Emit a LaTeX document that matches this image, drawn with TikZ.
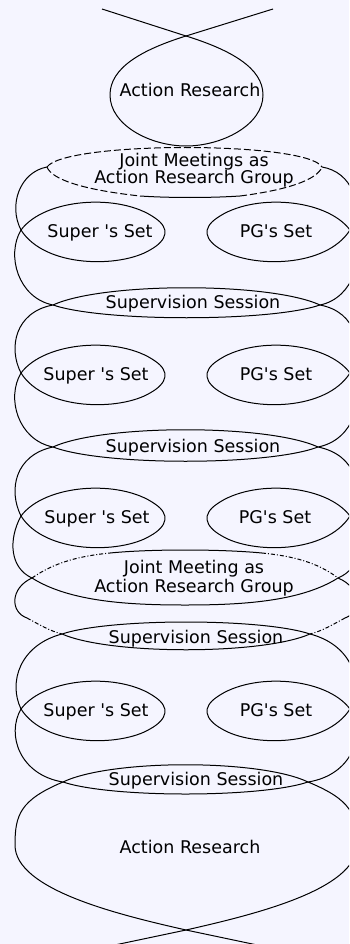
\documentclass[tikz,border=0pt]{standalone}
\usepackage{fontspec}
\setmainfont{DejaVu Sans}[Ligatures=TeXOff]
\usepackage{tikz}

\definecolor{paper}{RGB}{245,245,255}

\tikzset{
  coilline/.style={line width=1pt},
  hiddenline/.style={line width=1pt, dash pattern=on 4pt off 2pt on 1pt off 2pt},
  jmline/.style={line width=1pt, dash pattern=on 7pt off 3pt},
  lbl/.style={font=\fontsize{17.5}{17}\selectfont, inner sep=0pt, anchor=base},
}

\begin{document}
\begin{tikzpicture}[x=1pt,y=-1pt,line join=round]

\fill[paper] (0,0) rectangle (349,944);
\useasboundingbox (0,0) rectangle (349,944);
\clip (0,0) rectangle (349,944);

\draw[coilline] (102,9) -- (186,36) -- (273,9); % top cross
\draw[coilline] (186,36) .. controls (141,50) and (110,68) .. (110,95) .. controls (110,125) and (150,146) .. (186,146) .. controls (222,146) and (263,125) .. (263,95) .. controls (263,68) and (231,50) .. (186,36); % top loop

\draw[jmline] (47,167) .. controls (65,141) and (307,141) .. (322,167); % joint meetings top
\draw[jmline] (47,167) .. controls (52,180) and (85,190) .. (140,196);
\draw[coilline] (140,196) .. controls (170,198) and (210,198) .. (240,196);
\draw[jmline] (240,196) .. controls (287,190) and (317,180) .. (322,167);

% left side of the coil
\draw[coilline] (47,167) .. controls (20,172) and (8,205) .. (21,230) .. controls (6,255) and (18,298) .. (53,305) .. controls (15,312) and (8,348) .. (21,373) .. controls (6,398) and (18,440) .. (53,447) .. controls (15,455) and (8,490) .. (21,516) .. controls (8,540) and (10,568) .. (32,578) .. controls (10,588) and (10,612) .. (27,618);
\draw[hiddenline] (27,618) .. controls (40,625) and (50,631) .. (62,634);
\draw[coilline] (62,634) .. controls (20,645) and (8,682) .. (21,709) .. controls (6,735) and (20,775) .. (63,782) .. controls (20,800) and (15,815) .. (15,845) .. controls (15,890) and (120,915) .. (186,930) -- (262,946);

% right side of the coil
\draw[coilline] (322,167) .. controls (352,172) and (364,205) .. (350,230) .. controls (366,255) and (354,298) .. (320,305) .. controls (357,312) and (364,348) .. (350,373) .. controls (366,398) and (354,440) .. (318,447) .. controls (357,455) and (364,490) .. (350,516) .. controls (364,540) and (362,568) .. (338,578) .. controls (362,588) and (362,612) .. (345,618);
\draw[hiddenline] (345,618) .. controls (332,625) and (322,631) .. (310,634);
\draw[coilline] (310,634) .. controls (352,645) and (364,682) .. (350,709) .. controls (366,735) and (352,775) .. (308,782) .. controls (352,800) and (357,815) .. (357,845) .. controls (357,890) and (252,915) .. (186,930) -- (110,946);

% sets
\draw[coilline,shift={(0,230)}] (21,0) .. controls (45,-32) and (120,-37) .. (155,-12) .. controls (170,-2) and (168,10) .. (150,20) .. controls (120,38) and (45,38) .. (21,0);
\draw[coilline,shift={(0,230)}] (350,0) .. controls (326,-32) and (252,-37) .. (217,-12) .. controls (202,-2) and (204,10) .. (222,20) .. controls (252,38) and (326,38) .. (350,0);
\draw[coilline,shift={(0,373)}] (21,0) .. controls (45,-32) and (120,-37) .. (155,-12) .. controls (170,-2) and (168,10) .. (150,20) .. controls (120,38) and (45,38) .. (21,0);
\draw[coilline,shift={(0,373)}] (350,0) .. controls (326,-32) and (252,-37) .. (217,-12) .. controls (202,-2) and (204,10) .. (222,20) .. controls (252,38) and (326,38) .. (350,0);
\draw[coilline,shift={(0,516)}] (21,0) .. controls (45,-32) and (120,-37) .. (155,-12) .. controls (170,-2) and (168,10) .. (150,20) .. controls (120,38) and (45,38) .. (21,0);
\draw[coilline,shift={(0,516)}] (350,0) .. controls (326,-32) and (252,-37) .. (217,-12) .. controls (202,-2) and (204,10) .. (222,20) .. controls (252,38) and (326,38) .. (350,0);
\draw[coilline,shift={(0,709)}] (21,0) .. controls (45,-32) and (120,-37) .. (155,-12) .. controls (170,-2) and (168,10) .. (150,20) .. controls (120,38) and (45,38) .. (21,0);
\draw[coilline,shift={(0,709)}] (350,0) .. controls (326,-32) and (252,-37) .. (217,-12) .. controls (202,-2) and (204,10) .. (222,20) .. controls (252,38) and (326,38) .. (350,0);

% supervision sessions
\draw[coilline] (53,305) .. controls (103,282) and (270,282) .. (320,305) .. controls (270,322) and (103,322) .. (53,305);
\draw[coilline] (53,447) .. controls (103,424) and (268,424) .. (318,447) .. controls (268,466) and (103,466) .. (53,447);
\draw[coilline] (62,634) .. controls (110,618) and (262,618) .. (310,634) .. controls (262,655) and (110,655) .. (62,634);
\draw[coilline] (63,782) .. controls (111,759) and (260,759) .. (308,782) .. controls (260,798) and (111,798) .. (63,782);

% joint meeting lens
\draw[hiddenline] (32,578) .. controls (55,562) and (80,556) .. (110,553);
\draw[coilline] (110,553) .. controls (150,549) and (220,549) .. (262,553);
\draw[hiddenline] (262,553) .. controls (292,556) and (317,562) .. (338,578);
\draw[coilline] (32,578) .. controls (70,602) and (130,605) .. (185,605) .. controls (240,605) and (300,602) .. (338,578);

\node[lbl] (artop) at (190,97) {Action Research};
\node[lbl,align=center] (jmone) at (194,183) {Joint Meetings as\\Action Research Group};
\node[lbl] (superone) at (100,237) {Super 's Set};
\node[lbl] (pgone) at (276,237) {PG's Set};
\node[lbl] (sessone) at (193,308) {Supervision Session};
\node[lbl] (supertwo) at (96,380) {Super 's Set};
\node[lbl] (pgtwo) at (276,380) {PG's Set};
\node[lbl] (sesstwo) at (193,452) {Supervision Session};
\node[lbl] (superthree) at (97,523) {Super 's Set};
\node[lbl] (pgthree) at (275,523) {PG's Set};
\node[lbl,align=center] (jmtwo) at (194,592) {Joint Meeting as\\[2pt]Action Research Group};
\node[lbl] (sessthree) at (196,643) {Supervision Session};
\node[lbl] (superfour) at (96,716) {Super 's Set};
\node[lbl] (pgfour) at (276,716) {PG's Set};
\node[lbl] (sessfour) at (196,785) {Supervision Session};
\node[lbl] (arbottom) at (190,853) {Action Research};

\end{tikzpicture}
\end{document}
